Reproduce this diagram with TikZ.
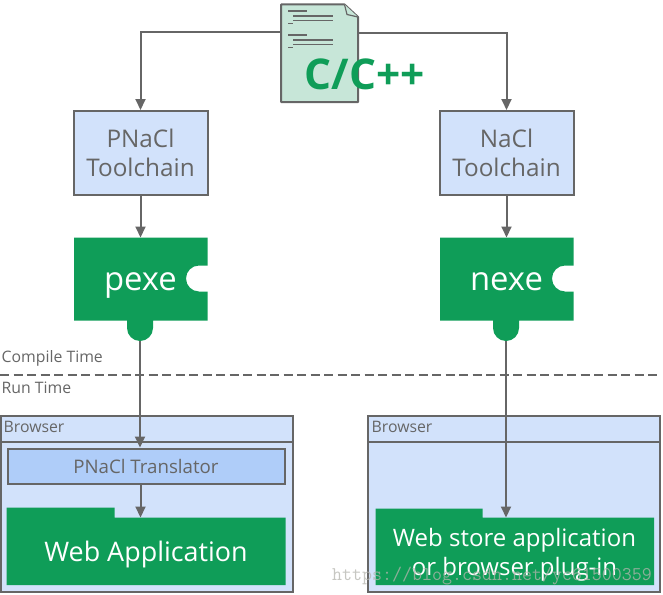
\documentclass[tikz,border=0pt]{standalone}
\usepackage{fontspec}
\setmainfont{Open Sans}
\usetikzlibrary{arrows.meta}
\definecolor{ln}{HTML}{666666}
\definecolor{gr}{HTML}{0F9D58}
\definecolor{lb}{HTML}{D2E2FB}
\definecolor{mb}{HTML}{AFCDF9}
\definecolor{doc}{HTML}{C7E6D8}
\definecolor{wmk}{HTML}{B4B4AE}
\tikzset{x=1pt,y=-1pt,
 outl/.style={draw=ln,line width=2pt},
 conn/.style={draw=ln,line width=2pt,-{Triangle[length=11pt,width=10pt]}},
 tool/.style={outl,fill=lb,minimum width=134pt,minimum height=84pt,inner sep=0pt,align=center,text=ln,font=\fontsize{24.3}{28.5}\selectfont},
 lab/.style={text=ln,font=\fontsize{15.8}{18}\selectfont,inner sep=0pt,anchor=base west},
 wt/.style={text=white,inner sep=0pt,align=center,anchor=base}}
\begin{document}
\begin{tikzpicture}
\useasboundingbox (0,0) rectangle (663,594);
% source document
\coordinate (srcL) at (282,32);
\coordinate (srcR) at (358,33);
\node[tool,anchor=north west] (pt) at (72.5,110) {PNaCl\\Toolchain};
\node[tool,anchor=north west] (nt) at (438.5,110) {NaCl\\Toolchain};
\draw[conn] (srcL) -- (pt.north |- srcL) -- (pt.north);
\draw[conn] (srcR) -- (nt.north |- srcR) -- (nt.north);
\draw[outl,fill=doc,line join=round] (281,4.5) -- (344.5,4.5) -- (358,17) -- (358,102) -- (281,102) -- cycle;
\draw[outl,line width=1.2pt,fill=doc] (344.5,4.5) -- (347,14.5) -- (358,17);
\foreach \y in {11,35}{
 \draw[ln,line width=1.5pt] (288,\y) -- (307,\y);
 \draw[ln,line width=1.5pt] (293,\y+5) -- (333,\y+5);
 \draw[ln,line width=1.5pt] (293,\y+9.5) -- (333,\y+9.5);
 \draw[ln,line width=1.5pt] (288,\y+12.5) -- (293,\y+12.5);
}
\node[text=gr,inner sep=0pt,anchor=base,font=\fontsize{42.4}{48}\selectfont\bfseries] (cpp) at (364.5,89) {C/C++};
% puzzle pieces
\fill[gr] (74,237.5) -- (207.5,237.5) -- (207.5,265.5) -- (199,265.5) arc[start angle=-90,end angle=-270,radius=13] -- (207.5,291.5) -- (207.5,320.5) -- (153,320.5) -- (153,328) arc[start angle=0,end angle=180,radius=13] -- (127,320.5) -- (74,320.5) -- cycle;
\fill[gr] (440,237.5) -- (573.5,237.5) -- (573.5,265.5) -- (565,265.5) arc[start angle=-90,end angle=-270,radius=13] -- (573.5,291.5) -- (573.5,320.5) -- (519,320.5) -- (519,328) arc[start angle=0,end angle=180,radius=13] -- (493,320.5) -- (440,320.5) -- cycle;
\node[wt,font=\fontsize{32.8}{38}\selectfont] (pexe) at (140.5,290) {pexe};
\node[wt,font=\fontsize{32.8}{38}\selectfont] (nexe) at (506.5,290) {nexe};
\coordinate (ptop) at (140,237.5);
\coordinate (ntop) at (506,237.5);
\coordinate (pbot) at (140,341);
\coordinate (nbot) at (506,341);
\draw[conn] (pt.south) -- (pt.south |- ptop);
\draw[conn] (nt.south) -- (nt.south |- ntop);
% divider
\coordinate (dl) at (0,375);
\coordinate (dr) at (661,375);
\draw[ln,line width=2pt,dash pattern=on 9pt off 4.5pt] (dl) -- (dr);
\node[lab] (ct) at (1.5,362) {Compile Time};
\node[lab] (rt) at (1.5,393) {Run Time};
% browsers
\draw[outl,fill=lb] (0.5,415.5) rectangle (292.5,591.5);
\draw[outl] (0.5,441.5) -- (292.5,441.5);
\node[lab] (b1) at (3.5,432) {Browser};
\draw[outl,fill=lb] (368,415.5) rectangle (660,591.5);
\draw[outl] (368,441.5) -- (660,441.5);
\node[lab] (b2) at (371.5,432) {Browser};
\node[outl,fill=mb,anchor=north west,minimum width=277pt,minimum height=35pt,inner sep=0pt,text=ln,font=\fontsize{18.7}{22}\selectfont] (tr) at (6.5,447.5) {PNaCl Translator};
% folders
\fill[gr] (6.5,507.5) -- (114.5,507.5) -- (114.5,517.5) -- (285.5,517.5) -- (285.5,585) -- (6.5,585) -- cycle;
\fill[gr] (375.5,508.5) -- (482.5,508.5) -- (482.5,517.5) -- (654,517.5) -- (654,585) -- (375.5,585) -- cycle;
\node[wt,font=\fontsize{26.9}{32}\selectfont] (wa) at (146,561) {Web Application};
\node[wt,anchor=north,font=\fontsize{24}{29.5}\selectfont] (ws) at (514.5,528) {Web store application\\or browser plug-in};
\coordinate (wat) at (140.5,517.5);
\coordinate (wst) at (506,517.5);
\draw[conn] (pbot) -- (tr.north -| pbot);
\draw[conn] (tr.south -| wat) -- (wat);
\draw[conn] (nbot) -- (wst);
\node[text=wmk,inner sep=0pt,anchor=base west,font=\ttfamily\fontsize{19.4}{20}\selectfont,opacity=.75] (wm) at (332,580) {https://blog.csdn.net/yc61500359};
\end{tikzpicture}
\end{document}
